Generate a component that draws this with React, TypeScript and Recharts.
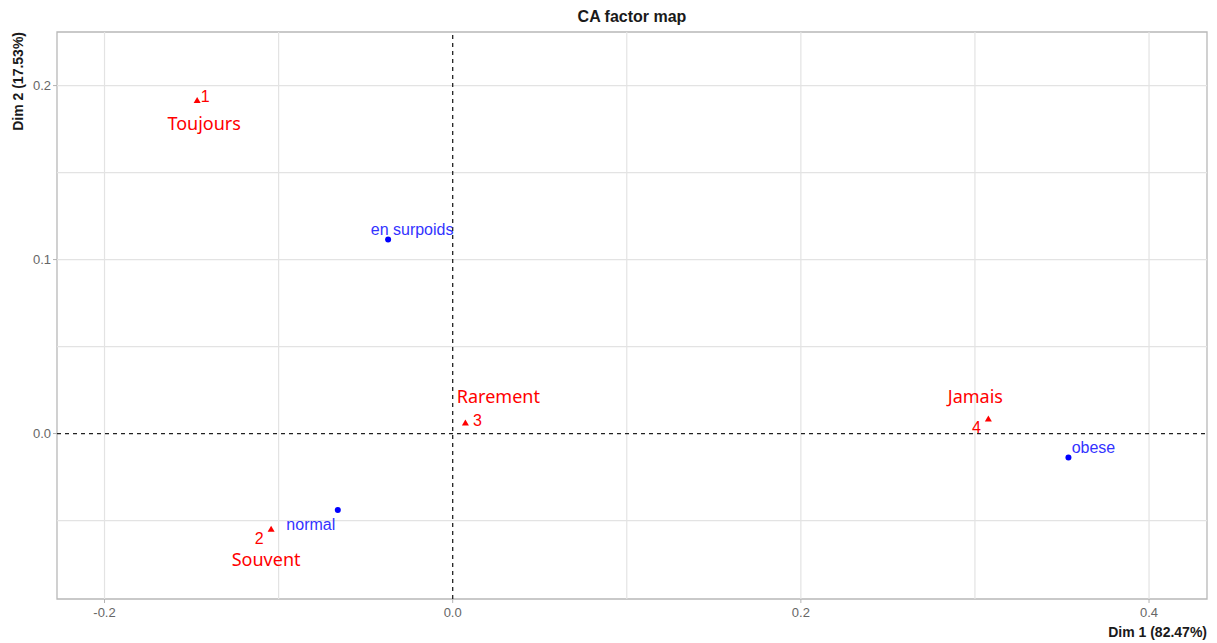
import React from 'react';
import {
  ScatterChart,
  Scatter,
  XAxis,
  YAxis,
  ReferenceLine,
  ReferenceArea,
} from 'recharts';

// Row categories (frequency answers) – CA coordinates on Dim 1 / Dim 2
const rowIds = ['1', '2', '3', '4'];
const rowNames = ['Toujours', 'Souvent', 'Rarement', 'Jamais'];
const rowDim1 = [-0.1468, -0.1043, 0.0073, 0.3077];
const rowDim2 = [0.1914, -0.055, 0.006, 0.0083];

// Column categories (weight status)
const colNames = ['en surpoids', 'normal', 'obese'];
const colDim1 = [-0.0371, -0.066, 0.3537];
const colDim2 = [0.1115, -0.0439, -0.0138];

// Axes
const xTicks = [-0.2, 0, 0.2, 0.4];
const yTicks = [0, 0.1, 0.2];
const xGrid = [-0.2, -0.1, 0.1, 0.2, 0.3, 0.4];
const yGrid = [-0.05, 0.05, 0.1, 0.15, 0.2];
const xDomain: [number, number] = [-0.2273, 0.4333];
const yDomain: [number, number] = [-0.0951, 0.2308];

const rowData = rowIds.map((id, i) => ({
  id,
  name: rowNames[i],
  x: rowDim1[i],
  y: rowDim2[i],
}));
const colData = colNames.map((name, i) => ({
  name,
  x: colDim1[i],
  y: colDim2[i],
}));

// label placement around each marker (dx, dy from marker centre)
const idOffset: Record<string, [number, number]> = {
  '1': [8, -4],
  '2': [-12, 9],
  '3': [12, -3],
  '4': [-12, 8],
};
const nameOffset: Record<string, [number, number]> = {
  Toujours: [7, 22],
  Souvent: [-5, 30],
  Rarement: [33, -27],
  Jamais: [-13, -23],
};
const colOffset: Record<string, [number, number]> = {
  'en surpoids': [24, -10],
  normal: [-27, 15],
  obese: [25, -10],
};

const RED = '#ff0000';
const BLUE = '#0000ff';
const LABEL_BLUE = '#3333ff';
const SANS = '"Liberation Sans", Arial, sans-serif';

const RowShape = (props: any) => {
  const { cx, cy, payload } = props;
  const [ix, iy] = idOffset[payload.id];
  const [nx, ny] = nameOffset[payload.name];
  return (
    <g>
      <polygon
        points={`${cx},${cy - 3.5} ${cx - 3.5},${cy + 2.5} ${cx + 3.5},${cy + 2.5}`}
        fill={RED}
      />
      <text
        x={cx + ix}
        y={cy + iy}
        textAnchor="middle"
        dominantBaseline="central"
        fontFamily={SANS}
        fontSize={16}
        fill={RED}
      >
        {payload.id}
      </text>
      <text
        x={cx + nx}
        y={cy + ny}
        textAnchor="middle"
        dominantBaseline="central"
        fontFamily='"Noto Sans", sans-serif'
        fontSize={18}
        fill={RED}
      >
        {payload.name}
      </text>
    </g>
  );
};

const ColShape = (props: any) => {
  const { cx, cy, payload } = props;
  const [dx, dy] = colOffset[payload.name];
  return (
    <g>
      <circle cx={cx} cy={cy} r={3} fill={BLUE} />
      <text
        x={cx + dx}
        y={cy + dy}
        textAnchor="middle"
        dominantBaseline="central"
        fontFamily={SANS}
        fontSize={16}
        fill={LABEL_BLUE}
      >
        {payload.name}
      </text>
    </g>
  );
};

const fmt = (v: number) => v.toFixed(1);

export default function App() {
  return (
    <div style={{ position: 'absolute', left: 0, top: 0, background: '#fff' }}>
      <ScatterChart
        width={1217}
        height={643}
        margin={{ top: 32, right: 10, bottom: 0, left: 0 }}
      >
        <XAxis
          type="number"
          dataKey="x"
          domain={xDomain}
          ticks={xTicks}
          tickFormatter={fmt}
          allowDataOverflow
          height={44}
          axisLine={false}
          tickLine={{ stroke: '#b3b3b3' }}
          tickSize={4}
          tickMargin={5}
          tick={{ fill: '#666', fontSize: 13, fontFamily: SANS }}
        />
        <YAxis
          type="number"
          dataKey="y"
          domain={yDomain}
          ticks={yTicks}
          tickFormatter={fmt}
          allowDataOverflow
          width={57}
          axisLine={false}
          tickLine={{ stroke: '#b3b3b3' }}
          tickSize={4}
          tick={{ fill: '#666', fontSize: 13, fontFamily: SANS }}
        />
        {xGrid.map((v) => (
          <ReferenceLine key={`gx${v}`} x={v} stroke="#e3e3e3" strokeWidth={1.2} />
        ))}
        {yGrid.map((v) => (
          <ReferenceLine key={`gy${v}`} y={v} stroke="#e3e3e3" strokeWidth={1.2} />
        ))}
        <ReferenceLine x={0} stroke="#222" strokeDasharray="4 4" strokeWidth={1.3} />
        <ReferenceLine y={0} stroke="#222" strokeDasharray="4 4" strokeWidth={1.3} />
        <ReferenceArea
          x1={xDomain[0]}
          x2={xDomain[1]}
          y1={yDomain[0]}
          y2={yDomain[1]}
          fill="none"
          fillOpacity={0}
          stroke="#b8b8b8"
          strokeWidth={1.3}
          ifOverflow="visible"
        />
        <Scatter data={colData} shape={ColShape} isAnimationActive={false} />
        <Scatter data={rowData} shape={RowShape} isAnimationActive={false} />
        <text
          x={632}
          y={16}
          textAnchor="middle"
          dominantBaseline="central"
          fontFamily={SANS}
          fontWeight="bold"
          fontSize={16}
          fill="#1a1a1a"
        >
          CA factor map
        </text>
        <text
          x={1207}
          y={632}
          textAnchor="end"
          dominantBaseline="central"
          fontFamily={SANS}
          fontWeight="bold"
          fontSize={14}
          fill="#1a1a1a"
        >
          Dim 1 (82.47%)
        </text>
        <text
          x={18}
          y={32}
          transform="rotate(-90 18 32)"
          textAnchor="end"
          dominantBaseline="central"
          fontFamily={SANS}
          fontWeight="bold"
          fontSize={14}
          fill="#1a1a1a"
        >
          Dim 2 (17.53%)
        </text>
      </ScatterChart>
    </div>
  );
}
